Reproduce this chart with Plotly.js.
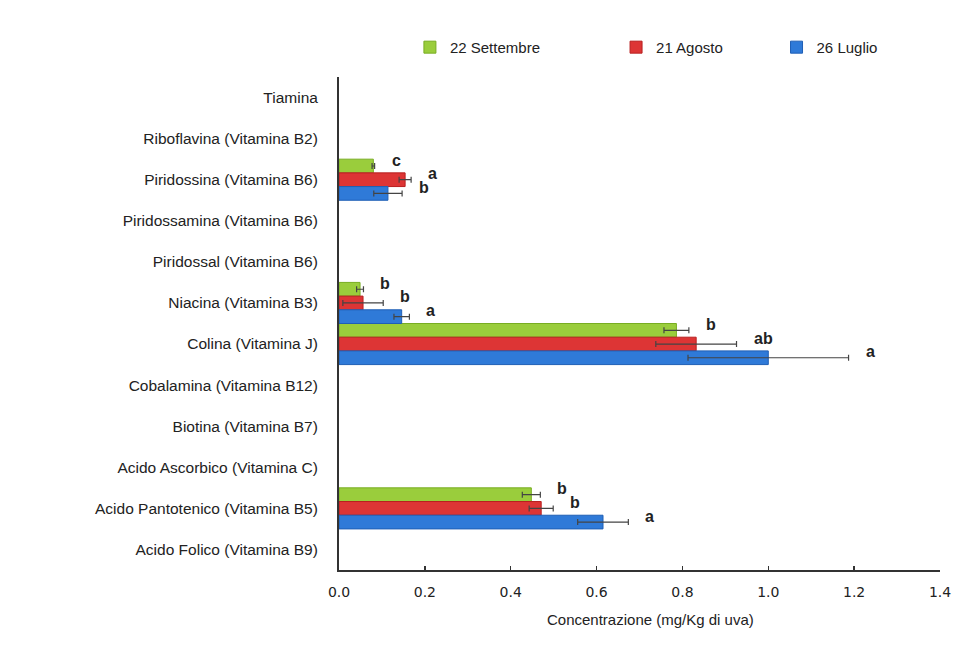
<!DOCTYPE html>
<html>
<head>
<meta charset="utf-8">
<script src="https://cdn.plot.ly/plotly-3.0.1.min.js"></script>
<style>
  html, body { margin: 0; padding: 0; background: #ffffff; }
  #chart { width: 970px; height: 664px; }
</style>
</head>
<body>
<div id="chart"></div>
<script>
// Vitamin categories, top to bottom
const vitamins = [
  'Tiamina',
  'Riboflavina (Vitamina B2)',
  'Piridossina (Vitamina B6)',
  'Piridossamina (Vitamina B6)',
  'Piridossal (Vitamina B6)',
  'Niacina (Vitamina B3)',
  'Colina (Vitamina J)',
  'Cobalamina (Vitamina B12)',
  'Biotina (Vitamina B7)',
  'Acido Ascorbico (Vitamina C)',
  'Acido Pantotenico (Vitamina B5)',
  'Acido Folico (Vitamina B9)'
];

// Sampling dates
const dates = ['22 Settembre', '21 Agosto', '26 Luglio'];

// Concentrations (mg/Kg di uva); null = not detected
const settembre = [null, null, 0.080, null, null, 0.049, 0.786, null, null, null, 0.448, null];
const agosto    = [null, null, 0.154, null, null, 0.056, 0.832, null, null, null, 0.471, null];
const luglio    = [null, null, 0.114, null, null, 0.146, 1.000, null, null, null, 0.615, null];

// Standard deviations
const settembreErr = [null, null, 0.003, null, null, 0.008, 0.029, null, null, null, 0.021, null];
const agostoErr    = [null, null, 0.014, null, null, 0.047, 0.094, null, null, null, 0.028, null];
const luglioErr    = [null, null, 0.033, null, null, 0.018, 0.187, null, null, null, 0.059, null];

// Significance letters (Tukey groups)
const settembreLetters = [null, null, 'c',  null, null, 'b', 'b',  null, null, null, 'b', null];
const agostoLetters    = [null, null, 'a',  null, null, 'b', 'ab', null, null, null, 'b', null];
const luglioLetters    = [null, null, 'b',  null, null, 'a', 'a',  null, null, null, 'a', null];

const xTicks = [0, 0.2, 0.4, 0.6, 0.8, 1.0, 1.2, 1.4];
const xTickText = ['0.0', '0.2', '0.4', '0.6', '0.8', '1.0', '1.2', '1.4'];
const xTitle = 'Concentrazione (mg/Kg di uva)';

const fills   = ['#9acd3c', '#dd3535', '#2f7ad8'];
const borders = ['#78ad22', '#b82020', '#1f5fb5'];

const values  = [settembre, agosto, luglio];
const errors  = [settembreErr, agostoErr, luglioErr];
const letters = [settembreLetters, agostoLetters, luglioLetters];
const legendIds = ['legend', 'legend2', 'legend3'];

const traces = dates.map((name, i) => ({
  type: 'bar',
  orientation: 'h',
  name: name,
  y: vitamins,
  x: values[i],
  legend: legendIds[i],
  marker: { color: fills[i], line: { color: borders[i], width: 1 } },
  error_x: {
    type: 'data',
    array: errors[i],
    visible: true,
    color: '#444444',
    thickness: 1.2,
    width: 3
  },
  hoverinfo: 'x+name'
}));

// Letters placed just past each error bar, at the bar's slot in its group
const annotations = [];
letters.forEach((arr, i) => {
  arr.forEach((txt, k) => {
    if (!txt) return;
    annotations.push({
      x: values[i][k] + errors[i][k],
      y: k + (i - 1) / 3,
      xref: 'x', yref: 'y',
      text: txt,
      showarrow: false,
      xanchor: 'left',
      xshift: 15,
      yshift: 6,
      font: { family: 'Liberation Sans, Arial, sans-serif', size: 16, color: '#222222', weight: 'bold' }
    });
  });
});

// X axis title, set slightly right of the plot centre
annotations.push({
  x: 0.518, y: -0.101, xref: 'paper', yref: 'paper',
  text: xTitle, showarrow: false,
  xanchor: 'center', yanchor: 'middle',
  font: { family: 'Liberation Sans, Arial, sans-serif', size: 15, color: '#222222' }
});

const legendFont = { family: 'Liberation Sans, Arial, sans-serif', size: 15, color: '#222222' };
const legendBase = {
  orientation: 'h', yanchor: 'middle', y: 1.06, xanchor: 'left',
  font: legendFont, bgcolor: 'rgba(0,0,0,0)', itemwidth: 30
};

const layout = {
  width: 970,
  height: 664,
  paper_bgcolor: '#ffffff',
  plot_bgcolor: '#ffffff',
  margin: { l: 339, r: 30, t: 77, b: 94 },
  barmode: 'group',
  bargap: 0,
  bargroupgap: 0,
  showlegend: true,
  legend:  Object.assign({}, legendBase, { x: 0.118 }),
  legend2: Object.assign({}, legendBase, { x: 0.461 }),
  legend3: Object.assign({}, legendBase, { x: 0.728 }),
  xaxis: {
    range: [0, 1.4],
    tickvals: xTicks,
    ticktext: xTickText,
    ticks: 'inside',
    ticklen: 4,
    tickwidth: 1.5,
    tickcolor: '#333333',
    showline: true,
    linecolor: '#333333',
    linewidth: 2,
    showgrid: false,
    zeroline: false,
    tickfont: { family: 'DejaVu Sans, Verdana, sans-serif', size: 14, color: '#222222' },
    ticklabelstandoff: 8,
    fixedrange: true
  },
  yaxis: {
    type: 'category',
    autorange: 'reversed',
    showline: true,
    linecolor: '#333333',
    linewidth: 2,
    ticks: '',
    showgrid: false,
    zeroline: false,
    tickfont: { family: 'Liberation Sans, Arial, sans-serif', size: 15.5, color: '#222222' },
    ticklabelstandoff: 16,
    fixedrange: true
  },
  annotations: annotations
};

Plotly.newPlot('chart', traces, layout, { displayModeBar: false, staticPlot: true });
</script>
</body>
</html>
